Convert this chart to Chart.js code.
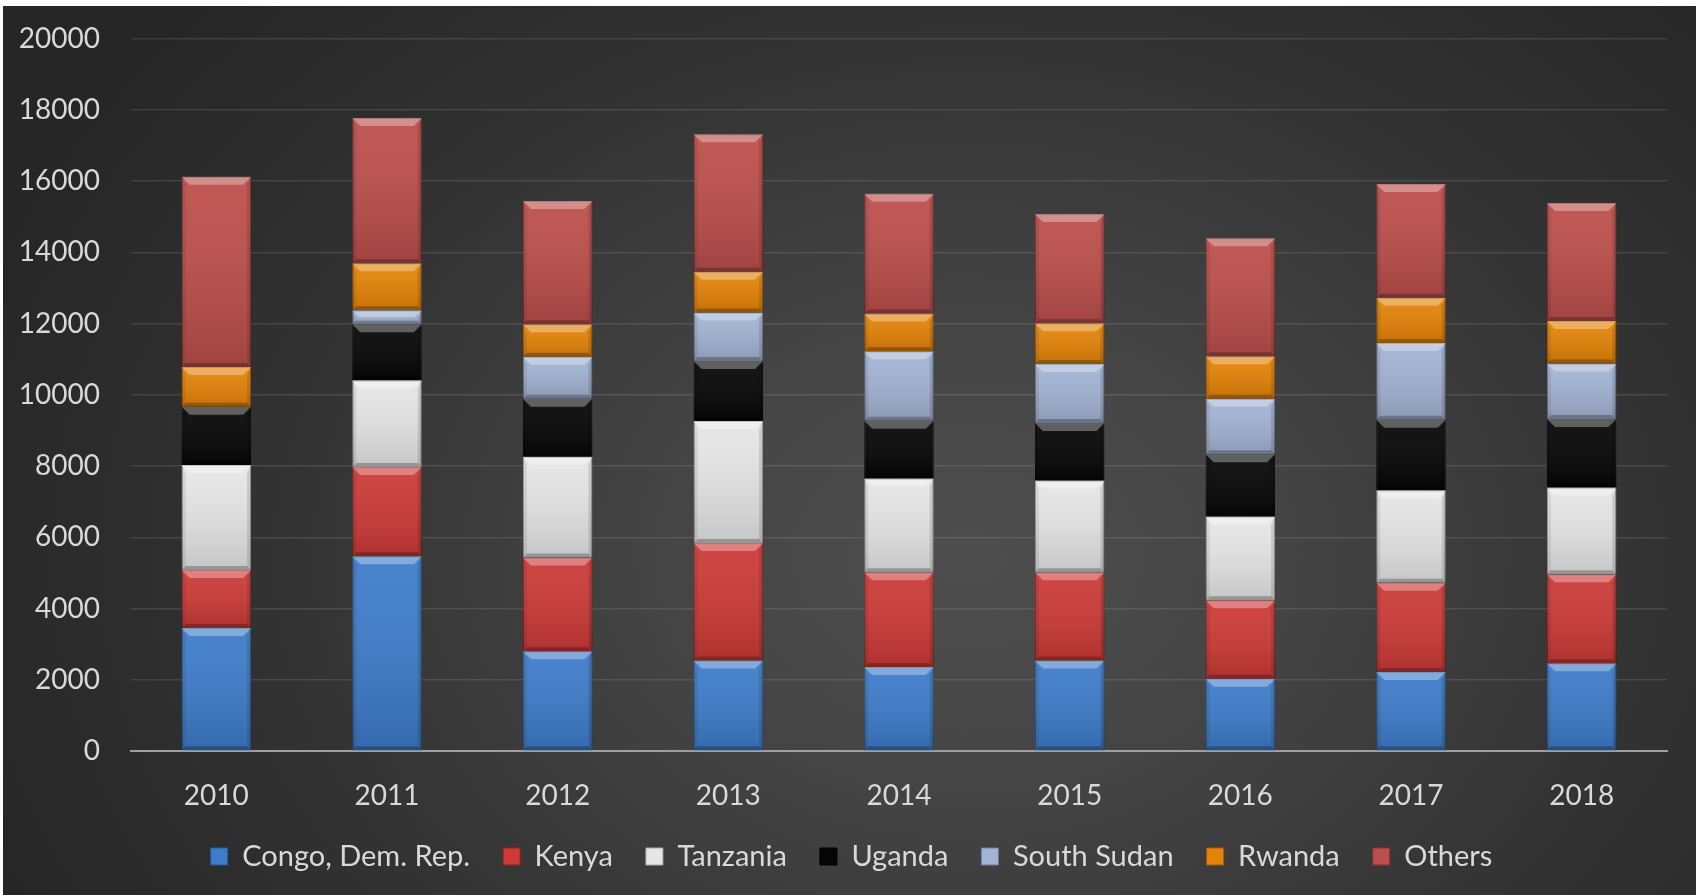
<!DOCTYPE html>
<html>
<head>
<meta charset="utf-8">
<script src="https://cdn.jsdelivr.net/npm/chart.js@4.4.1/dist/chart.umd.min.js"></script>
<style>
  html, body { margin: 0; padding: 0; background: #ffffff; width: 1700px; height: 895px; overflow: hidden; }
  #bg { position: absolute; left: 3px; top: 6px; width: 1693px; height: 889px;
        background: radial-gradient(ellipse 62% 90% at 57% 62%, #4e4e4e 0%, #444444 30%, #333333 65%, #262626 100%); }
  #c { position: absolute; left: 0; top: 0; }
</style>
</head>
<body>
<div id="bg"></div>
<canvas id="c" width="1700" height="895"></canvas>
<script>
const years = ["2010", "2011", "2012", "2013", "2014", "2015", "2016", "2017", "2018"];
const congo      = [3450, 5470, 2800, 2540, 2360, 2540, 2030, 2220, 2460];
const kenya      = [1630, 2500, 2630, 3300, 2660, 2480, 2200, 2500, 2500];
const tanzania   = [2950, 2440, 2830, 3420, 2630, 2570, 2350, 2600, 2440];
const uganda     = [1630, 1570, 1630, 1690, 1620, 1620, 1750, 1980, 1920];
const southSudan = [0, 390, 1180, 1360, 1950, 1650, 1560, 2150, 1560];
const rwanda     = [1120, 1320, 910, 1145, 1060, 1145, 1190, 1275, 1190];
const others     = [5340, 4075, 3460, 3860, 3365, 3070, 3310, 3190, 3310];
const yTicks     = [0, 2000, 4000, 6000, 8000, 10000, 12000, 14000, 16000, 18000, 20000];

const FONT = "Lato, 'Open Sans', sans-serif";
const TEXT = "#d9d9d9";

function ds(label, data, color, border) {
  return { label, data, backgroundColor: color, borderColor: border, borderWidth: 1,
           barPercentage: 0.407, categoryPercentage: 1.0, yAxisID: 'y' };
}

const bevelPlugin = {
  id: 'bevel',
  afterDatasetsDraw(chart) {
    const ctx = chart.ctx;
    chart.data.datasets.forEach((d, i) => {
      const meta = chart.getDatasetMeta(i);
      if (meta.hidden) return;
      meta.data.forEach(el => {
        const p = el.getProps(['x', 'y', 'base', 'width'], true);
        const L = p.x - p.width / 2, R = p.x + p.width / 2;
        const T = Math.min(p.y, p.base), B = Math.max(p.y, p.base);
        const h = B - T;
        if (h < 1) return;
        const b = Math.min(8, h / 2);
        ctx.save();
        const g = ctx.createLinearGradient(0, T, 0, B);
        g.addColorStop(0, 'rgba(255,255,255,0.06)');
        g.addColorStop(1, 'rgba(0,0,0,0.14)');
        ctx.fillStyle = g;
        ctx.fillRect(L, T, R - L, h);
        ctx.beginPath();
        ctx.moveTo(L, T); ctx.lineTo(R, T); ctx.lineTo(R - b, T + b); ctx.lineTo(L + b, T + b); ctx.closePath();
        ctx.fillStyle = 'rgba(255,255,255,0.32)'; ctx.fill();
        ctx.beginPath();
        ctx.moveTo(L, T); ctx.lineTo(L + b * 0.5, T + b); ctx.lineTo(L + b * 0.5, B - b * 0.5); ctx.lineTo(L, B); ctx.closePath();
        ctx.fillStyle = 'rgba(0,0,0,0.08)'; ctx.fill();
        ctx.beginPath();
        ctx.moveTo(R, T); ctx.lineTo(R - b * 0.5, T + b); ctx.lineTo(R - b * 0.5, B - b * 0.5); ctx.lineTo(R, B); ctx.closePath();
        ctx.fillStyle = 'rgba(0,0,0,0.12)'; ctx.fill();
        ctx.beginPath();
        ctx.moveTo(L, B); ctx.lineTo(R, B); ctx.lineTo(R - b * 0.5, B - b * 0.5); ctx.lineTo(L + b * 0.5, B - b * 0.5); ctx.closePath();
        ctx.fillStyle = 'rgba(0,0,0,0.25)'; ctx.fill();
        ctx.restore();
      });
    });
  }
};

new Chart(document.getElementById('c'), {
  type: 'bar',
  data: {
    labels: years,
    datasets: [
      ds('Congo, Dem. Rep.', congo, '#3d7cc9', '#2a5a96'),
      ds('Kenya', kenya, '#cc3a37', '#8e2422'),
      ds('Tanzania', tanzania, '#e6e6e6', '#a8a8a8'),
      ds('Uganda', uganda, '#060606', '#000000'),
      ds('South Sudan', southSudan, '#a3b3d3', '#6f7e9c'),
      ds('Rwanda', rwanda, '#e48307', '#a65c00'),
      ds('Others', others, '#bc4e4b', '#87302e')
    ]
  },
  options: {
    responsive: false,
    animation: false,
    devicePixelRatio: 1,
    layout: { padding: { left: 3, right: 0, top: 38.5, bottom: 14 } },
    plugins: {
      legend: {
        position: 'bottom',
        labels: {
          color: TEXT,
          font: { family: FONT, size: 29 },
          boxWidth: 17, boxHeight: 17,
          padding: 33
        }
      },
      tooltip: { enabled: false }
    },
    scales: {
      x: {
        stacked: true,
        afterFit(scale) { scale.height = 58; scale.paddingLeft = 0; scale.paddingRight = 0; },
        grid: { display: false, drawTicks: false },
        border: { display: true, color: '#a0a0a0', width: 2 },
        ticks: { color: TEXT, font: { family: FONT, size: 28 }, padding: 28, maxRotation: 0 }
      },
      y: {
        stacked: true,
        min: 0, max: 20000,
        afterFit(scale) { scale.width = 128; scale.paddingTop = 0; scale.paddingBottom = 0; },
        afterBuildTicks(scale) { scale.ticks = yTicks.map(v => ({ value: v })); },
        grid: { color: 'rgba(255,255,255,0.11)', lineWidth: 1.5, drawTicks: false },
        border: { display: false },
        ticks: { color: TEXT, font: { family: FONT, size: 28 }, padding: 31,
                 callback: (v) => String(v) }
      },
      yR: {
        position: 'right',
        min: 0, max: 20000,
        afterFit(scale) { scale.width = 33; scale.paddingTop = 0; scale.paddingBottom = 0; },
        grid: { display: false, drawTicks: false },
        border: { display: false },
        ticks: { display: false }
      }
    }
  },
  plugins: [bevelPlugin]
});
</script>
</body>
</html>
